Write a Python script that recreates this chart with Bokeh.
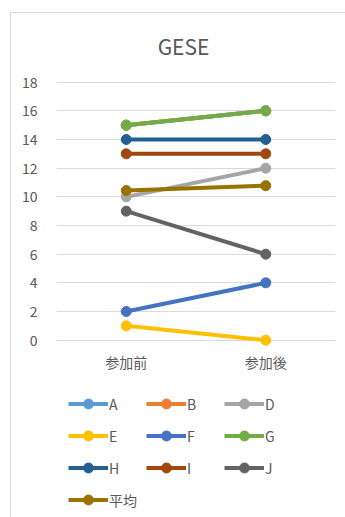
from bokeh.plotting import figure
from bokeh.models import Range1d, FactorRange, FixedTicker, Legend, LegendItem, Label
from bokeh.embed import file_html
from bokeh.resources import INLINE

title_text = "GESE"
categories = ["参加前", "参加後"]
series_names = ["A", "B", "D", "E", "F", "G", "H", "I", "J", "平均"]
A = [15, 16]
B = [15, 16]
D = [10, 12]
E = [1, 0]
F = [2, 4]
G = [15, 16]
H = [14, 14]
I = [13, 13]
J = [9, 6]
AVG = [10.44, 10.78]
series_values = [A, B, D, E, F, G, H, I, J, AVG]
y_ticks = [0, 2, 4, 6, 8, 10, 12, 14, 16, 18]

colors = ["#5B9BD5", "#ED7D31", "#A5A5A5", "#FFC000", "#4472C4",
          "#70AD47", "#255E91", "#9E480E", "#636363", "#997300"]

TXT = "#595959"
FONT = "Noto Sans CJK JP"

p = figure(width=335, height=505,
           x_range=FactorRange(*categories, range_padding=0),
           y_range=Range1d(-12.44, 22.79),
           output_backend="svg", toolbar_location=None,
           min_border_left=45, min_border_right=11, min_border_top=0,
           min_border_bottom=0)
p.styles = {"margin-left": "10px", "margin-top": "12px",
            "border-left": "1px solid #d9d9d9", "border-top": "1px solid #d9d9d9"}

p.outline_line_color = None
p.background_fill_color = "white"
p.border_fill_color = "white"

p.add_layout(Label(x=127, y=473, x_units="screen", y_units="screen",
                   text=title_text, text_align="center", text_baseline="middle",
                   text_font=FONT, text_font_size="21px", text_color=TXT))

p.xgrid.grid_line_color = None
p.ygrid.grid_line_color = "#d9d9d9"
p.ygrid.grid_line_width = 1

p.yaxis.ticker = FixedTicker(ticks=y_ticks)
p.yaxis.axis_line_color = None
p.yaxis.major_tick_line_color = None
p.yaxis.minor_tick_line_color = None
p.yaxis.major_label_text_font = FONT
p.yaxis.major_label_text_font_size = "14px"
p.yaxis.major_label_text_color = TXT
p.yaxis.major_label_standoff = 13

p.xaxis.fixed_location = 0
p.xaxis.axis_line_color = None
p.xaxis.major_tick_line_color = None
p.xaxis.minor_tick_line_color = None
p.xaxis.major_label_text_font = FONT
p.xaxis.major_label_text_font_size = "14px"
p.xaxis.major_label_text_color = TXT
p.xaxis.major_label_standoff = 6

items = []
for name, vals, c in zip(series_names, series_values, colors):
    r1 = p.line(categories, vals, line_color=c, line_width=4)
    r2 = p.scatter(categories, vals, marker="circle", size=10,
                   fill_color=c, line_color=c)
    items.append(LegendItem(label=name, renderers=[r1, r2]))

legend = Legend(items=items, orientation="horizontal", ncols=3,
                location=(12, 6),
                glyph_width=40, glyph_height=25,
                label_width=30, label_standoff=1, spacing=7,
                padding=0, margin=0,
                label_text_font=FONT, label_text_font_size="14px",
                label_text_color=TXT,
                border_line_color=None, background_fill_alpha=0)
p.add_layout(legend, "center")

open("out.html", "w").write(file_html(p, INLINE))
